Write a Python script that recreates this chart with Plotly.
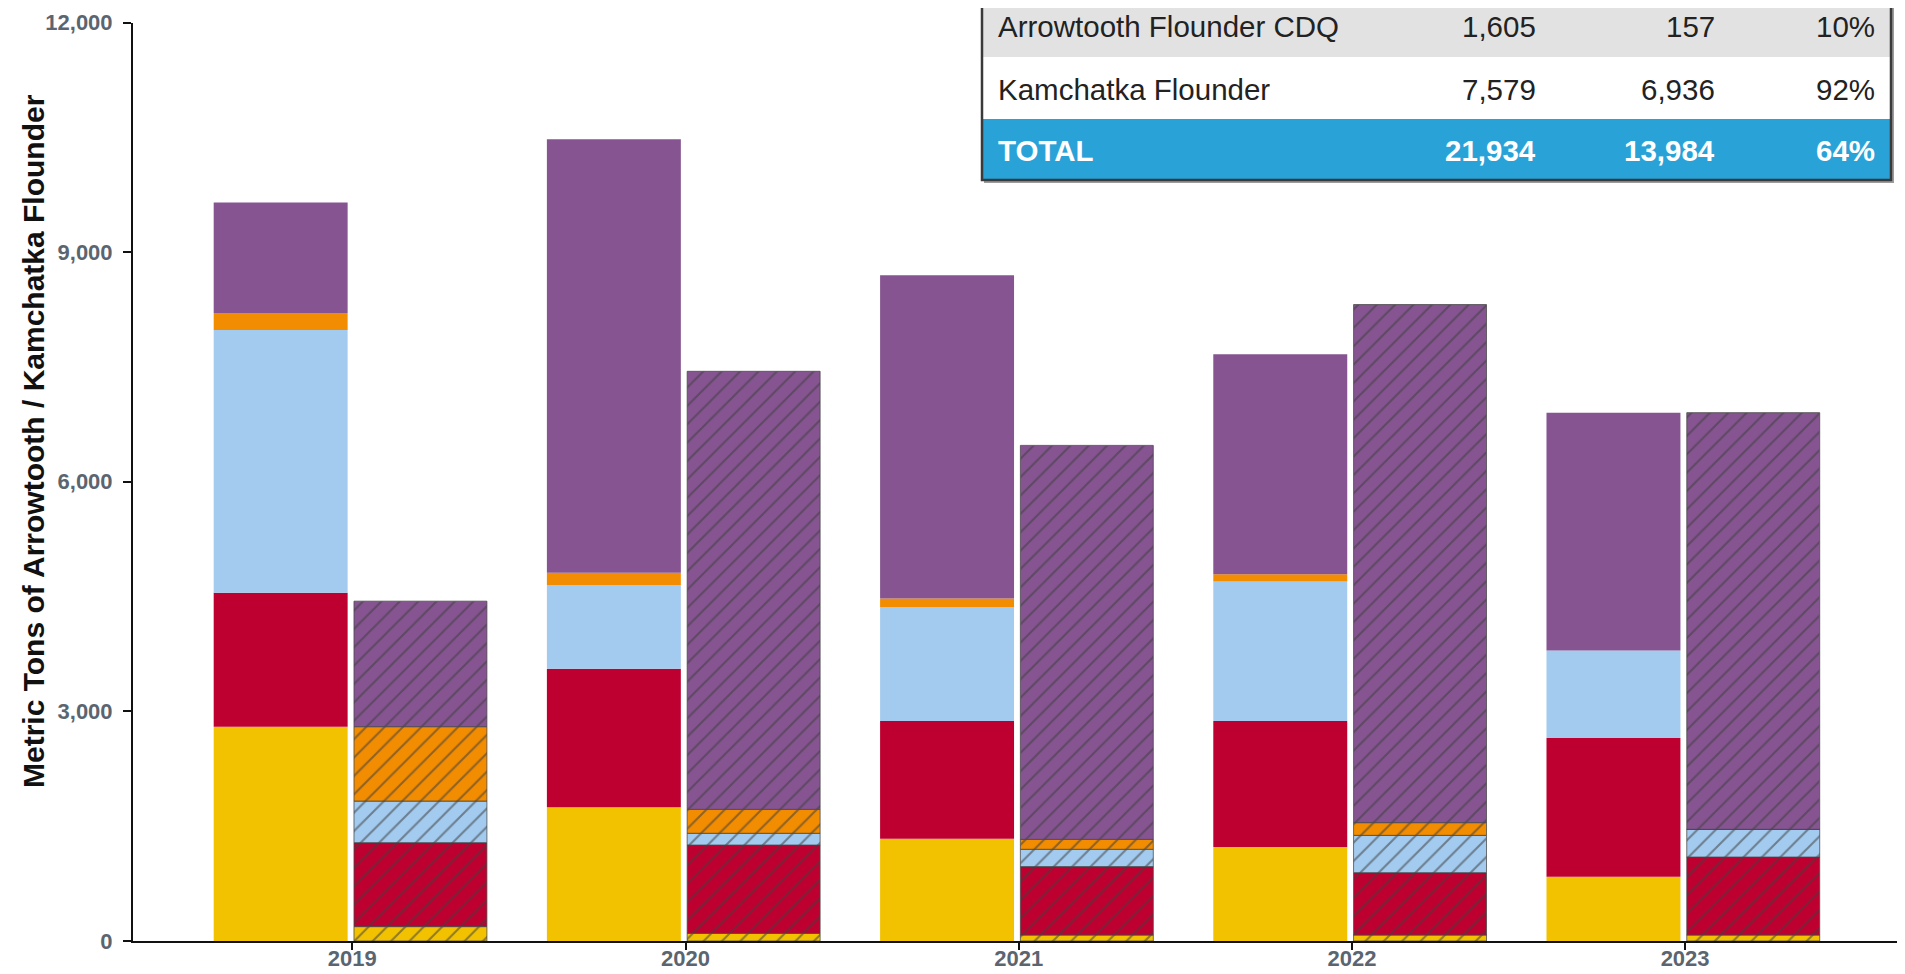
import numpy as np
import plotly.graph_objects as go

# ---------------- data ----------------
years = ["2019", "2020", "2021", "2022", "2023"]
series_names = ["Sector A", "Sector B", "Sector C", "CDQ", "Kamchatka Flounder"]
series_colors = ["#F2C200", "#BE0030", "#A3CBEF", "#F28C00", "#855491"]

# allocation (solid bars), bottom -> top
alloc_yellow = [2800, 1747, 1337, 1228, 841]
alloc_red = [1750, 1809, 1536, 1645, 1810]
alloc_lblue = [3432, 1095, 1492, 1825, 1143]
alloc_orange = [222, 159, 111, 95, 0]
alloc_purple = [1445, 5664, 4221, 2872, 3109]

# catch (hatched bars), bottom -> top
catch_yellow = [188, 100, 78, 78, 78]
catch_red = [1097, 1154, 894, 815, 1019]
catch_lblue = [543, 153, 226, 487, 362]
catch_orange = [972, 313, 130, 166, 0]
catch_purple = [1640, 5723, 5147, 6769, 5444]

y_ticks = [0, 3000, 6000, 9000, 12000]

table_labels = ["Arrowtooth Flounder CDQ", "Kamchatka Flounder", "TOTAL"]
table_col1 = ["1,605", "7,579", "21,934"]
table_col2 = ["157", "6,936", "13,984"]
table_col3 = ["10%", "92%", "64%"]

# ---------------- layout constants ----------------
OFF = 8                      # default page body margin
W, H = 1905 - OFF, 974 - OFF
ML, MR, MT, MB = 125, 0, 0, 33
PW, PH = W - ML - MR, H - MT - MB
FONT = "Liberation Sans, Arial, sans-serif"


def px(Xs):
    """screen x -> paper x"""
    return (Xs - OFF - ML) / PW


def py(Ys):
    """screen y -> paper y"""
    return (H - MB - (Ys - OFF)) / PH


alloc = [alloc_yellow, alloc_red, alloc_lblue, alloc_orange, alloc_purple]
catch = [catch_yellow, catch_red, catch_lblue, catch_orange, catch_purple]
xpos = np.arange(len(years))

fig = go.Figure()

base_a = np.zeros(len(years))
base_c = np.zeros(len(years))
for name, color, a_vals, c_vals in zip(series_names, series_colors, alloc, catch):
    a_vals = np.array(a_vals, dtype=float)
    c_vals = np.array(c_vals, dtype=float)
    fig.add_trace(go.Bar(
        x=xpos, y=a_vals, base=base_a.copy(), name=name + " allocation",
        offset=-0.416, width=0.402,
        marker=dict(color=color, line=dict(width=0)),
        showlegend=False,
    ))
    fig.add_trace(go.Bar(
        x=xpos, y=c_vals, base=base_c.copy(), name=name + " catch",
        offset=0.005, width=0.399,
        marker=dict(color=color, line=dict(width=1, color="rgba(70,70,70,0.75)"),
                    pattern=dict(shape="/", fgcolor="#3f3f3f", fgopacity=0.55,
                                 size=13, solidity=0.16)),
        showlegend=False,
    ))
    base_a += a_vals
    base_c += c_vals

# ---------------- table (partially visible, top cut) ----------------
TL, TR = 982, 1891
rows = [(-20, 57, "#E2E2E2"), (57, 119, "#FFFFFF"), (119, 180, "#29A2D8")]
shapes = []
shapes.append(dict(type="rect", xref="paper", yref="paper",
                   x0=px(TL + 2), x1=px(TR + 3), y0=py(183), y1=py(-20),
                   fillcolor="rgba(90,90,90,0.6)", line=dict(width=0), layer="above"))
for (y0, y1, fill) in rows:
    shapes.append(dict(type="rect", xref="paper", yref="paper",
                       x0=px(TL), x1=px(TR), y0=py(y1), y1=py(y0),
                       fillcolor=fill, line=dict(width=0), layer="above"))
shapes.append(dict(type="rect", xref="paper", yref="paper",
                   x0=px(TL), x1=px(TR), y0=py(180), y1=py(-20),
                   fillcolor="rgba(0,0,0,0)", line=dict(width=2.5, color="#3a3a3a"),
                   layer="above"))

annotations = []
row_centers = [27, 89, 151]
col_right = [1538, 1717, 1877]
for i, (lab, c1, c2, c3) in enumerate(zip(table_labels, table_col1, table_col2, table_col3)):
    is_total = (i == len(table_labels) - 1)
    fcol = "#FFFFFF" if is_total else "#222222"
    fw = "bold" if is_total else "normal"
    yc = py(row_centers[i])
    annotations.append(dict(text=lab, xref="paper", yref="paper", x=px(996), y=yc,
                            xanchor="left", yanchor="middle", showarrow=False,
                            font=dict(family=FONT, size=29.5, color=fcol, weight=fw)))
    for val, xr in zip([c1, c2, c3], col_right):
        annotations.append(dict(text=val, xref="paper", yref="paper", x=px(xr), y=yc,
                                xanchor="right", yanchor="middle", showarrow=False,
                                font=dict(family=FONT, size=29.5, color=fcol, weight=fw)))

# y-axis title
annotations.append(dict(text="Metric Tons of Arrowtooth / Kamchatka Flounder",
                        xref="paper", yref="paper", x=px(33), y=py(441),
                        xanchor="center", yanchor="middle", textangle=-90, showarrow=False,
                        font=dict(family=FONT, size=30, color="#111111", weight="bold")))

x_left_s, x_right_s = 133, 1905
tick0_s, tick_step_s = 352.3, 333.2
fig.update_layout(
    width=W, height=H,
    margin=dict(l=ML, r=MR, t=MT, b=MB, autoexpand=False),
    barmode="overlay",
    plot_bgcolor="white", paper_bgcolor="white",
    font=dict(family=FONT),
    shapes=shapes,
    annotations=annotations,
    xaxis=dict(
        range=[(x_left_s - tick0_s) / tick_step_s, (x_right_s - tick0_s) / tick_step_s],
        tickmode="array", tickvals=xpos, ticktext=years, automargin=False,
        showline=True, linecolor="#111111", linewidth=2,
        ticks="outside", ticklen=7, tickwidth=1.5, tickcolor="#111111",
        showgrid=False, zeroline=False, ticklabelstandoff=-10,
        tickfont=dict(family=FONT, size=22, color="#5b6570", weight="bold"),
    ),
    yaxis=dict(
        range=[0, 12000], tickmode="array", tickvals=y_ticks, tickformat=",",
        domain=[0, (PH - (22.5 - OFF)) / PH], automargin=False,
        showline=True, linecolor="#111111", linewidth=2,
        ticks="outside", ticklen=8, tickwidth=1.5, tickcolor="#111111",
        showgrid=False, zeroline=False, ticklabelstandoff=6,
        tickfont=dict(family=FONT, size=22, color="#5b6570", weight="bold"),
    ),
)

fig.write_html("out.html")
